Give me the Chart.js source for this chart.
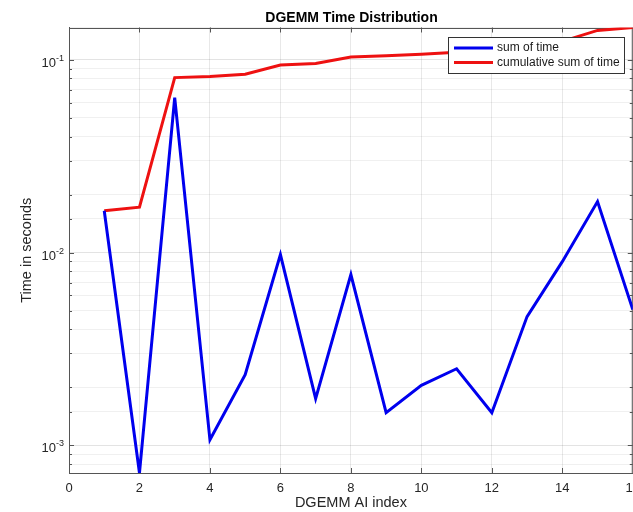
<!DOCTYPE html>
<html>
<head>
<meta charset="utf-8">
<script src="https://cdn.jsdelivr.net/npm/chart.js@4/dist/chart.umd.min.js"></script>
<style>
  html, body { margin: 0; padding: 0; background: #fff; overflow: hidden; }
  #wrap { position: relative; width: 648px; height: 512px; }
</style>
</head>
<body>
<div id="wrap"><canvas id="c"></canvas></div>
<script>
// ---- data ----
const aiIndex = [1, 2, 3, 4, 5, 6, 7, 8, 9, 10, 11, 12, 13, 14, 15, 16];
const sumOfTime = [0.0165, 0.00072, 0.0636, 0.00107, 0.00233, 0.00977, 0.00175, 0.0077,
                   0.00148, 0.00205, 0.0025, 0.00148, 0.00466, 0.00898, 0.0184, 0.00507];
const cumulativeSum = [0.0165, 0.0172, 0.0808, 0.0819, 0.0842, 0.094, 0.0957, 0.1034,
                       0.1049, 0.1069, 0.1094, 0.1109, 0.1156, 0.1246, 0.142, 0.147];
const xTickValues = [0, 2, 4, 6, 8, 10, 12, 14, 16];
const yRange = [0.00072, 0.147];
const seriesNames = ['sum of time', 'cumulative sum of time'];
const titleText = 'DGEMM Time Distribution';
const xLabel = 'DGEMM AI index';
const yLabel = 'Time in seconds';

const BLUE = '#0000ee';
const RED = '#ee1111';
const FONT = "'Liberation Sans', Arial, sans-serif";

function isDecade(v) {
  const l = Math.log10(v);
  return Math.abs(l - Math.round(l)) < 1e-9;
}

const extras = {
  id: 'extras',
  beforeDatasetsDraw(chart) {
    const { ctx, chartArea: a, scales } = chart;
    ctx.save();
    ctx.strokeStyle = '#555';
    ctx.lineWidth = 1;
    ctx.beginPath();
    ctx.moveTo(a.left, Math.round(a.top) + 0.5); ctx.lineTo(a.right, Math.round(a.top) + 0.5);
    ctx.moveTo(a.right - 0.5, a.top); ctx.lineTo(a.right - 0.5, a.bottom);
    ctx.stroke();
    ctx.beginPath();
    scales.x.ticks.forEach(t => {
      const px = Math.round(scales.x.getPixelForValue(t.value)) + 0.5;
      ctx.moveTo(px, a.bottom); ctx.lineTo(px, a.bottom - 5);
      ctx.moveTo(px, a.top); ctx.lineTo(px, a.top + 5);
    });
    scales.y.ticks.forEach(t => {
      const py = Math.round(scales.y.getPixelForValue(t.value)) + 0.5;
      const len = isDecade(t.value) ? 5 : 3;
      ctx.moveTo(a.left, py); ctx.lineTo(a.left + len, py);
      ctx.moveTo(a.right, py); ctx.lineTo(a.right - len, py);
    });
    ctx.stroke();
    // y decade labels: "10" with raised exponent
    ctx.fillStyle = '#262626';
    ctx.textBaseline = 'alphabetic';
    ctx.textAlign = 'right';
    scales.y.ticks.forEach(t => {
      if (!isDecade(t.value)) return;
      const py = scales.y.getPixelForValue(t.value);
      const exp = String(Math.round(Math.log10(t.value)));
      const right = a.left - 5;
      ctx.font = '9px ' + FONT;
      const ew = ctx.measureText(exp).width;
      ctx.fillText(exp, right, py + 1);
      ctx.font = '13px ' + FONT;
      ctx.fillText('10', right - ew, py + 7);
    });
    ctx.restore();
  },
  afterDatasetsDraw(chart) {
    const { ctx } = chart;
    ctx.save();
    ctx.fillStyle = '#000';
    ctx.font = 'bold 14px ' + FONT;
    ctx.textAlign = 'center';
    ctx.textBaseline = 'middle';
    ctx.fillText(titleText, 351.5, 18);
    const bx = 448.5, by = 37.5, bw = 176, bh = 36;
    ctx.fillStyle = '#fff';
    ctx.fillRect(bx, by, bw, bh);
    ctx.strokeStyle = '#333';
    ctx.lineWidth = 1;
    ctx.strokeRect(bx, by, bw, bh);
    const items = [[seriesNames[0], BLUE, 48], [seriesNames[1], RED, 62.5]];
    ctx.font = '12px ' + FONT;
    ctx.textAlign = 'left';
    items.forEach(([name, col, y]) => {
      ctx.strokeStyle = col;
      ctx.lineWidth = 3;
      ctx.beginPath();
      ctx.moveTo(454, y); ctx.lineTo(493, y);
      ctx.stroke();
      ctx.fillStyle = '#1a1a1a';
      ctx.fillText(name, 497, y);
    });
    ctx.restore();
  }
};

new Chart(document.getElementById('c'), {
  type: 'line',
  data: {
    datasets: [
      {
        label: seriesNames[0],
        data: aiIndex.map((x, i) => ({ x, y: sumOfTime[i] })),
        borderColor: BLUE, backgroundColor: BLUE, borderWidth: 3,
        pointRadius: 0, tension: 0
      },
      {
        label: seriesNames[1],
        data: aiIndex.map((x, i) => ({ x, y: cumulativeSum[i] })),
        borderColor: RED, backgroundColor: RED, borderWidth: 3,
        pointRadius: 0, tension: 0
      }
    ]
  },
  options: {
    responsive: true,
    maintainAspectRatio: false,
    animation: false,
    layout: { padding: { top: 27.5, left: 0, right: 0, bottom: 0 } },
    plugins: {
      legend: { display: false },
      title: { display: false },
      tooltip: { enabled: false }
    },
    scales: {
      x: {
        type: 'linear',
        min: 0, max: 16,
        afterBuildTicks(scale) { scale.ticks = xTickValues.map(v => ({ value: v })); },
        afterFit(scale) { scale.height = 39; },
        ticks: { font: { size: 13, family: FONT }, color: '#262626', padding: 8, maxRotation: 0 },
        grid: { color: 'rgba(0,0,0,0.09)', drawTicks: false },
        border: { color: '#555' },
        title: { display: true, text: xLabel, font: { size: 14.5, family: FONT }, color: '#262626', padding: { top: 0, bottom: 0 } }
      },
      y: {
        type: 'logarithmic',
        min: yRange[0], max: yRange[1],
        afterFit(scale) { scale.width = 69; },
        ticks: {
          font: { size: 13, family: FONT }, color: '#262626', padding: 5,
          autoSkip: false,
          callback: () => ''
        },
        grid: {
          color: (c) => (c.tick && isDecade(c.tick.value)) ? 'rgba(0,0,0,0.11)' : 'rgba(0,0,0,0.06)',
          drawTicks: false
        },
        border: { color: '#555' },
        title: { display: true, text: yLabel, font: { size: 14.5, family: FONT }, color: '#262626', padding: { top: 18, bottom: 0 } }
      }
    }
  },
  plugins: [extras]
});
</script>
</body>
</html>
